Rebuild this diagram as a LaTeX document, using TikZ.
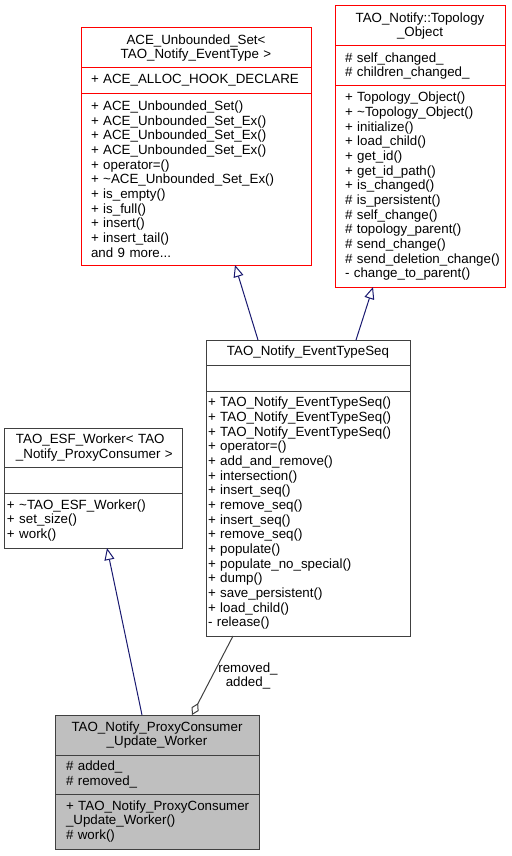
\documentclass[tikz,border=0pt]{standalone}
\usepackage{fontspec}
\setmainfont{Liberation Sans}
\usetikzlibrary{arrows.meta, calc, positioning}
\definecolor{edgeblue}{HTML}{191970}
\definecolor{boxgray}{HTML}{404040}
\definecolor{fillgray}{HTML}{BFBFBF}
\tikzset
{%
cls/.style={draw=boxgray, fill=white, rectangle, line width=0.75pt, inner ysep=0pt, outer sep=0pt, font=\fontsize{10}{11}\selectfont, align=left},
hot/.style={cls, draw=red},
cur/.style={cls, fill=fillgray},
wh/.style n args={3}{minimum width=#1*0.75pt, minimum height=#2*0.75pt, inner xsep=#3*0.75pt, text width=(#1-2*#3)*0.75pt},
inherit/.style={draw=edgeblue, line width=0.75pt, -{Triangle[open, fill=white, length=9pt, width=7.5pt]}},
aggr/.style={draw=boxgray, line width=0.75pt, -{Diamond[open, fill=white, length=10pt, width=6pt]}}
}

\begin{document}
\begin{tikzpicture}[x=0.75pt, y=-0.75pt]
		\useasboundingbox (0,0) rectangle (511,856);

		% ACE_Unbounded_Set
		\node[hot, wh={230}{40}{4}, anchor=north west, align=center] (ace) at (81,28) {ACE\_Unbounded\_Set<\\TAO\_Notify\_EventType~>};
		\node[hot, wh={230}{25}{10}, below=0pt of ace] (aceA) {+~ACE\_ALLOC\_HOOK\_DECLARE};
		\node[hot, wh={230}{172}{10}, below=0pt of aceA] (aceM) {+~ACE\_Unbounded\_Set()\\+~ACE\_Unbounded\_Set\_Ex()\\+~ACE\_Unbounded\_Set\_Ex()\\+~ACE\_Unbounded\_Set\_Ex()\\+~operator=()\\+~\textasciitilde{}ACE\_Unbounded\_Set\_Ex()\\+~is\_empty()\\+~is\_full()\\+~insert()\\+~insert\_tail()\\and~9~more...};

		% Topology_Object
		\node[hot, wh={170}{40}{4}, anchor=north west, align=center] (topo) at (335,6) {TAO\_Notify::Topology\\\_Object};
		\node[hot, wh={170}{40}{10}, below=0pt of topo] (topoA) {\#~self\_changed\_\\\#~children\_changed\_};
		\node[hot, wh={170}{201}{10}, below=0pt of topoA] (topoM) {+~Topology\_Object()\\+~\textasciitilde{}Topology\_Object()\\+~initialize()\\+~load\_child()\\+~get\_id()\\+~get\_id\_path()\\+~is\_changed()\\\#~is\_persistent()\\\#~self\_change()\\\#~topology\_parent()\\\#~send\_change()\\\#~send\_deletion\_change()\\-~change\_to\_parent()};

		% EventTypeSeq
		\node[cls, wh={204}{25}{2}, anchor=north west, align=center] (seq) at (206,340) {TAO\_Notify\_EventTypeSeq};
		\node[cls, wh={204}{26}{2}, below=0pt of seq] (seqA) {};
		\node[cls, wh={204}{245}{2}, below=0pt of seqA] (seqM) {+~TAO\_Notify\_EventTypeSeq()\\+~TAO\_Notify\_EventTypeSeq()\\+~TAO\_Notify\_EventTypeSeq()\\+~operator=()\\+~add\_and\_remove()\\+~intersection()\\+~insert\_seq()\\+~remove\_seq()\\+~insert\_seq()\\+~remove\_seq()\\+~populate()\\+~populate\_no\_special()\\+~dump()\\+~save\_persistent()\\+~load\_child()\\-~release()};

		% ESF_Worker
		\node[cls, wh={178}{39}{12}, anchor=north west] (esf) at (4,428) {TAO\_ESF\_Worker<~TAO\\\_Notify\_ProxyConsumer~>};
		\node[cls, wh={178}{26}{3}, below=0pt of esf] (esfA) {};
		\node[cls, wh={178}{55}{3}, below=0pt of esfA] (esfM) {+~\textasciitilde{}TAO\_ESF\_Worker()\\+~set\_size()\\+~work()};

		% Update_Worker
		\node[cur, wh={204}{40}{4}, anchor=north west, align=center] (upd) at (55,715) {TAO\_Notify\_ProxyConsumer\\\_Update\_Worker};
		\node[cur, wh={204}{39}{11}, below=0pt of upd] (updA) {\#~added\_\\\#~removed\_};
		\node[cur, wh={204}{55}{11}, below=0pt of updA] (updM) {+~TAO\_Notify\_ProxyConsumer\\\_Update\_Worker()\\\#~work()};

		\node[font=\fontsize{10}{11}\selectfont, align=center, inner sep=0pt] (aggLabel) at (248,676) {removed\_\\added\_};

		\draw[inherit] ($(seq.north)+(-50,0)$) -- ($(aceM.south)+(39,0)$);
		\draw[inherit] ($(seq.north)+(48,0)$) -- ($(topoM.south)+(-47,0)$);
		\draw[inherit] ($(upd.north)+(-15,0)$) -- ($(esfM.south)+(14,0)$);
		\draw[aggr] ($(seqM.south)+(-75,0)$) -- ($(upd.north)+(35,0)$);
	\end{tikzpicture}
\end{document}
